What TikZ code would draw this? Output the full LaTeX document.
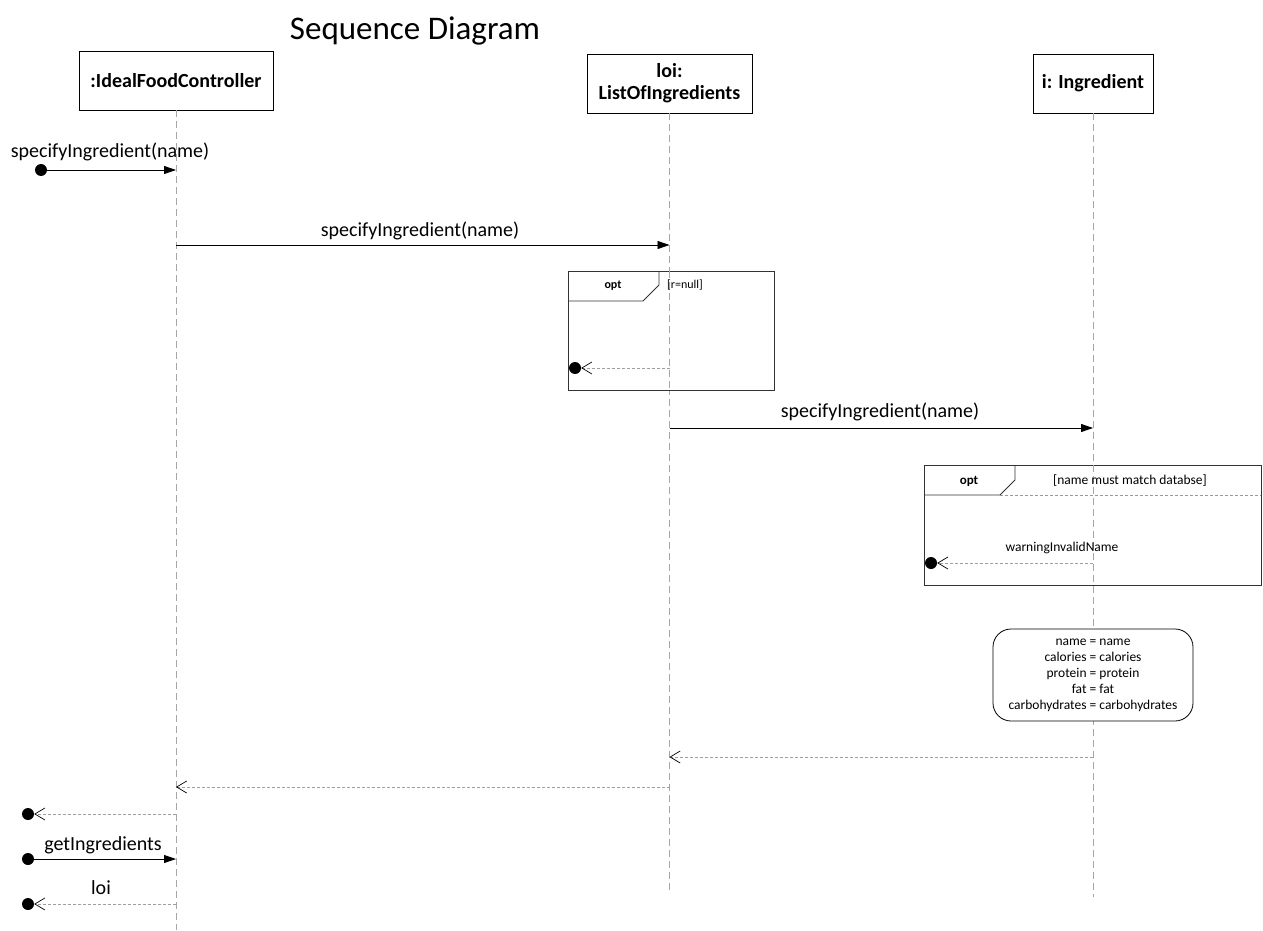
\documentclass[tikz,border=0pt]{standalone}
\usepackage{fontspec}
\setmainfont{Carlito}
\usetikzlibrary{arrows.meta}
\begin{document}
\begin{tikzpicture}[x=1pt,y=-1pt,
  obj/.style={draw,line width=0.8pt,fill=white,font=\fontsize{20}{22}\selectfont\bfseries,align=center,inner sep=0pt},
  life/.style={draw=gray!70,line width=0.6pt,dash pattern=on 7pt off 4pt},
  msg/.style={line width=0.8pt,-{Triangle[length=12pt,width=8pt]}},
  ret/.style={draw=gray!75,line width=0.7pt,dash pattern=on 3pt off 2pt,-{Straight Barb[length=10pt,width=12pt,black,line width=0.7pt]}},
  dot/.style={circle,fill=black,inner sep=0pt,minimum size=12pt},
  lbl/.style={font=\fontsize{20}{22}\selectfont,inner sep=0pt},
  small/.style={font=\fontsize{13.5}{15}\selectfont,inner sep=0pt},
  frame/.style={draw=black!80,line width=0.8pt},
]
\useasboundingbox (0,0) rectangle (1263,931);
% title
\node[font=\fontsize{33}{36}\selectfont,inner sep=0pt] (title) at (415,31) {Sequence Diagram};
% objects
\node[obj,minimum width=194pt,minimum height=59pt] (A) at (176,80.5) {:IdealFoodController};
\node[obj,minimum width=165pt,minimum height=59pt] (B) at (669.5,83.5) {loi:\\ListOfIngredients};
\node[obj,minimum width=120pt,minimum height=59pt] (C) at (1093,83.5) {i: Ingredient};
% lifeline ends
\coordinate (Aend) at (176,930);
\coordinate (Bend) at (669.5,893);
\coordinate (Cend) at (1093,897);
\draw[life] (A.south) -- (Aend);
\draw[life] (B.south) -- (Bend);
\draw[life] (C.south) -- (Cend);
% frames
\draw[frame,fill=white] (568,271) rectangle (774,390);
\draw[frame] (568,301) -- (643,301) -- (659,285) -- (659,271);
\draw[life] (669.5,271) -- (669.5,390);
\node[font=\fontsize{12}{14}\selectfont\bfseries,inner sep=0pt] (opt1) at (613,286) {opt};
\node[font=\fontsize{12}{14}\selectfont,inner sep=0pt,anchor=west] (g1) at (667,285) {[r=null]};

\draw[frame,fill=white] (924,465) rectangle (1261,585);
\draw[frame] (924,495) -- (1000,495) -- (1015,480) -- (1015,465);
\draw[draw=gray!80,line width=0.6pt,dash pattern=on 3pt off 2pt] (1000,495) -- (1261,495);
\draw[life] (1093,465) -- (1093,585);
\node[font=\fontsize{13}{15}\selectfont\bfseries,inner sep=0pt] (opt2) at (969,481) {opt};
\node[small] (g2) at (1130,481) {[name must match databse]};

% note
\node[draw,line width=0.8pt,fill=white,rounded corners=18pt,minimum width=200pt,minimum height=92pt,align=center,font=\fontsize{13.5}{16}\selectfont,inner sep=0pt] (note) at (1093,675) {name = name\\calories = calories\\protein = protein\\fat = fat\\carbohydrates = carbohydrates};

% message 1
\node[dot] (d1) at (41,170) {};
\coordinate (a1) at (176,170);
\draw[msg] (d1.center) -- (a1);
\node[lbl] (l1) at (110,152) {specifyIngredient(name)};
% message 2
\coordinate (a2) at (176,245);
\coordinate (b2) at (669.5,245);
\draw[msg] (a2) -- (b2);
\node[lbl] (l2) at (420,231) {specifyIngredient(name)};
% return in frame 1
\coordinate (b3) at (669.5,368);
\node[dot] (d3) at (575,368) {};
\draw[ret] (b3) -- (d3);
% message 3
\coordinate (b4) at (669.5,428);
\coordinate (c4) at (1093,428);
\draw[msg] (b4) -- (c4);
\node[lbl] (l4) at (880,412) {specifyIngredient(name)};
% warning
\coordinate (c5) at (1093,563);
\node[dot] (d5) at (931,563) {};
\draw[ret] (c5) -- (d5);
\node[small] (l5) at (1062,548) {warningInvalidName};
% returns
\coordinate (c6) at (1093,757);
\coordinate (b6) at (669.5,757);
\draw[ret] (c6) -- (b6);
\coordinate (b7) at (669.5,787);
\coordinate (a7) at (176,787);
\draw[ret] (b7) -- (a7);
\coordinate (a8) at (176,814);
\node[dot] (d8) at (28,814) {};
\draw[ret] (a8) -- (d8);
% getIngredients
\node[dot] (d9) at (28,859) {};
\coordinate (a9) at (176,859);
\draw[msg] (d9.center) -- (a9);
\node[lbl] (l9) at (103,845) {getIngredients};
% loi
\coordinate (a10) at (176,904);
\node[dot] (d10) at (28,904) {};
\draw[ret] (a10) -- (d10);
\node[lbl] (l10) at (101,888) {loi};
\end{tikzpicture}
\end{document}
